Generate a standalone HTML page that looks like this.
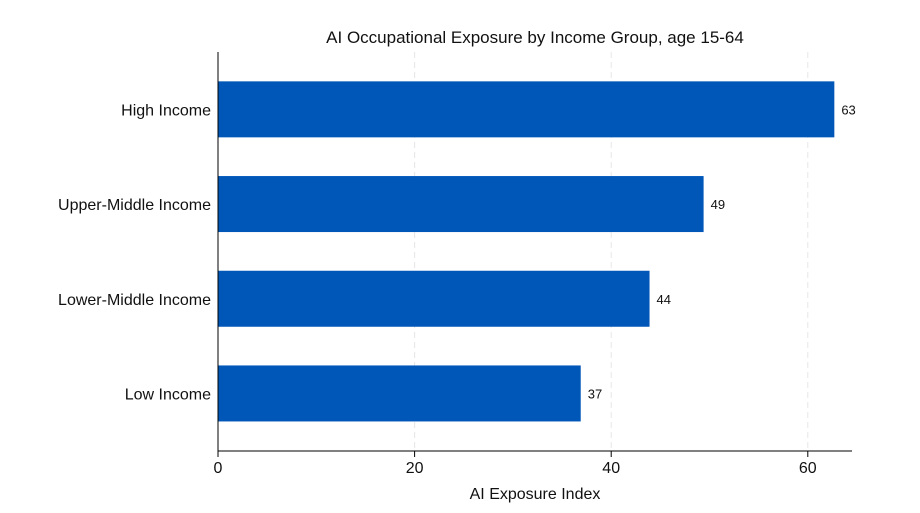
<!DOCTYPE html>
<html><head><meta charset="utf-8"><style>
body{margin:0;background:#fff;}
svg{display:block;font-family:"Liberation Sans",Arial,sans-serif;}
</style></head><body>
<svg id="chart" width="920" height="513" viewBox="0 0 920 513">
<rect width="920" height="513" fill="#fff"/>
<text x="535" y="43" text-anchor="middle" font-size="17" fill="#111">AI Occupational Exposure by Income Group, age 15-64</text>
<g id="grid"></g><g id="bars"></g><g id="axes"></g>
<text x="535" y="499" text-anchor="middle" font-size="16" fill="#111">AI Exposure Index</text>
</svg>
<script>
const categories=["High Income","Upper-Middle Income","Lower-Middle Income","Low Income"];
const values=[62.7,49.4,43.9,36.9];
const valueLabels=["63","49","44","37"];
const ticks=[0,20,40,60];
const NS="http://www.w3.org/2000/svg";
const x0=218,pxPerUnit=9.83,top0=62,band=94.7,barH=56,axisY=451,axisEnd=852;
const xs=v=>x0+v*pxPerUnit;
const ys=i=>top0+i*band+(band-barH)/2;
function mk(t,a,p){const e=document.createElementNS(NS,t);for(const k in a)e.setAttribute(k,a[k]);p.appendChild(e);return e;}
const grid=document.getElementById('grid'),bars=document.getElementById('bars'),axes=document.getElementById('axes');
ticks.forEach(t=>{if(t>0){const g=mk('line',{x1:xs(t),x2:xs(t),y1:52,y2:axisY,stroke:'#e6e6e6','stroke-dasharray':'6,4'},grid);

}
const tl=mk('line',{x1:xs(t),x2:xs(t),y1:axisY,y2:axisY+6,stroke:'#000'},axes);


const tx=mk('text',{x:xs(t),y:axisY+22,'text-anchor':'middle','font-size':16,fill:'#111'},axes);tx.textContent=t;

});
categories.forEach((c,i)=>{const y=ys(i);
const r=mk('rect',{x:x0,y:y,width:xs(values[i])-x0,height:barH,fill:'#0057b8'},bars);


const v=mk('text',{x:xs(values[i])+7,y:y+barH/2+5,'font-size':13,fill:'#111'},bars);v.textContent=valueLabels[i];


const l=mk('text',{x:x0-7,y:y+barH/2+6,'text-anchor':'end','font-size':16,fill:'#111'},axes);l.textContent=c;

});
const xa=mk('line',{x1:x0,x2:axisEnd,y1:axisY,y2:axisY,stroke:'#000'},axes);


const ya=mk('line',{x1:x0,x2:x0,y1:52,y2:axisY,stroke:'#000'},axes);


</script>
</body></html>
